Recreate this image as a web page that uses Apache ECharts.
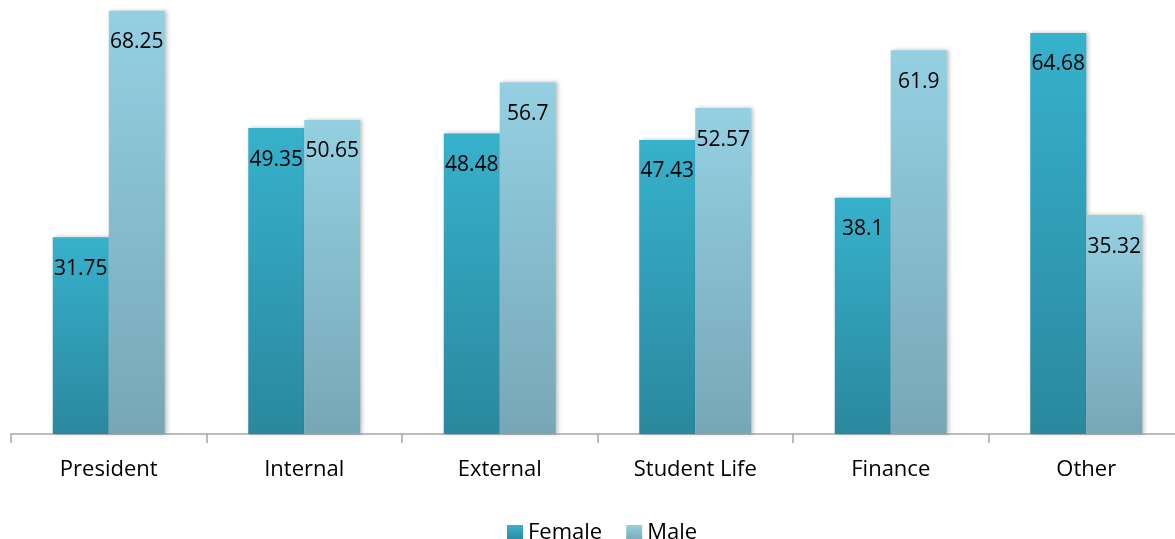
<!DOCTYPE html>
<html>
<head>
<meta charset="utf-8">
<script src="https://cdn.jsdelivr.net/npm/echarts@6/dist/echarts.min.js"></script>
<style>html,body{margin:0;padding:0;background:#fff;overflow:hidden;}#c{width:1184px;height:539px;}</style>
</head>
<body>
<div id="c"></div>
<script>
const categories = ['President', 'Internal', 'External', 'Student Life', 'Finance', 'Other'];
const female = [31.75, 49.35, 48.48, 47.43, 38.1, 64.68];
const male = [68.25, 50.65, 56.7, 52.57, 61.9, 35.32];
const seriesNames = ['Female', 'Male'];

const chart = echarts.init(document.getElementById('c'));
const font = '"Open Sans", "Noto Sans", sans-serif';
function grad(top, bottom) {
  return new echarts.graphic.LinearGradient(0, 0, 0, 1, [
    {offset: 0, color: top}, {offset: 1, color: bottom}
  ]);
}
const labelCfg = {
  show: true, position: 'insideTop', distance: 21,
  color: '#000', fontSize: 21, fontFamily: font
};
chart.setOption({
  animation: false,
  grid: {left: 11, right: 0, top: 0, bottom: 105, containLabel: false},
  legend: {
    data: seriesNames, top: 517, left: 502,
    itemWidth: 16, itemHeight: 16, itemGap: 24, icon: 'rect',
    textStyle: {fontSize: 22, fontFamily: font, color: '#000'}
  },
  xAxis: {
    type: 'category', data: categories,
    axisLine: {lineStyle: {color: '#a6a6a6', width: 1.5}},
    axisTick: {show: true, length: 9, lineStyle: {color: '#a6a6a6', width: 1.5}},
    axisLabel: {fontSize: 22, fontFamily: font, color: '#000', margin: 25}
  },
  yAxis: {type: 'value', min: 0, max: 70, show: false, splitLine: {show: false}},
  series: [
    {
      name: seriesNames[0], type: 'bar', data: female, barWidth: 56, barGap: '0%',
      itemStyle: {color: grad('#37b1cc', '#2a889e'), shadowColor: 'rgba(0,0,0,0.25)', shadowBlur: 4, shadowOffsetX: 2},
      label: labelCfg
    },
    {
      name: seriesNames[1], type: 'bar', data: male, barWidth: 56, barGap: '0%',
      itemStyle: {color: grad('#94d0e2', '#77a7b6'), shadowColor: 'rgba(0,0,0,0.25)', shadowBlur: 4, shadowOffsetX: 2},
      label: labelCfg
    }
  ]
});
</script>
</body>
</html>
